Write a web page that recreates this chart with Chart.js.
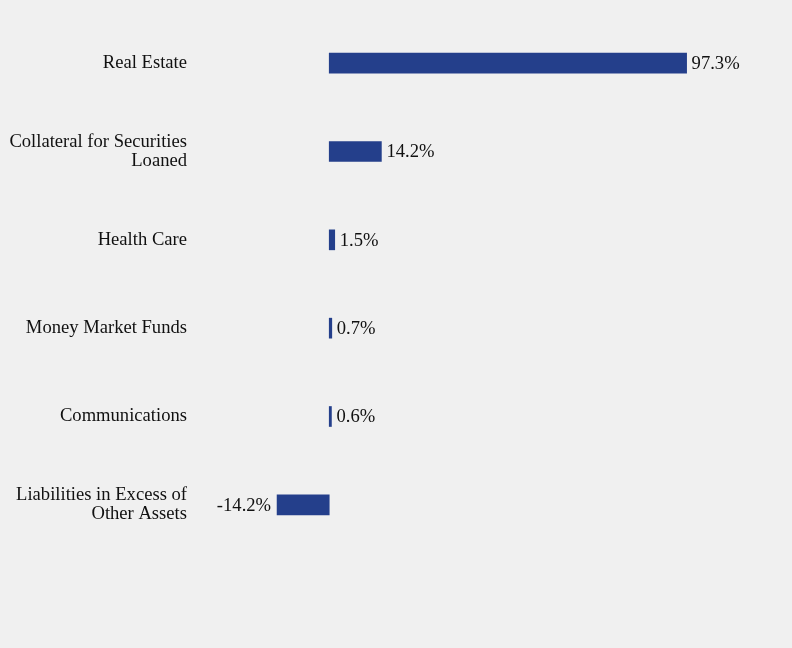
<!DOCTYPE html>
<html>
<head>
<meta charset="utf-8">
<script src="https://cdn.jsdelivr.net/npm/chart.js@4"></script>
<style>
  html, body { margin: 0; padding: 0; background: #f0f0f0; }
  #wrap { width: 792px; height: 648px; }
</style>
</head>
<body>
<div id="wrap"><canvas id="grafico"></canvas></div>
<script>
const categorias = [
    'Real Estate',
    ['Collateral for Securities', 'Loaned'],
    'Health Care',
    'Money Market Funds',
    'Communications',
    ['Liabilities in Excess of', 'Other Assets']
];
const valores = [97.3, 14.2, 1.5, 0.7, 0.6, -14.2];

const fonte = { family: '"Liberation Serif", "Times New Roman", serif', size: 18.6, lineHeight: 1.05 };

// escreve o percentual na ponta de cada barra
const rotulosBarra = {
    id: 'rotulosBarra',
    afterDatasetsDraw(chart) {
        const ctx = chart.ctx;
        const meta = chart.getDatasetMeta(0);
        ctx.save();
        ctx.font = fonte.size + 'px ' + fonte.family;
        ctx.fillStyle = '#111111';
        ctx.textBaseline = 'middle';
        meta.data.forEach((barra, i) => {
            const v = valores[i];
            const texto = v.toFixed(1) + '%';
            if (v >= 0) {
                ctx.textAlign = 'left';
                ctx.fillText(texto, barra.x + 5, barra.y + 1);
            } else {
                ctx.textAlign = 'right';
                ctx.fillText(texto, barra.x - 6, barra.y + 1);
            }
        });
        ctx.restore();
    }
};

new Chart(document.getElementById('grafico'), {
    type: 'bar',
    data: {
        labels: categorias,
        datasets: [{
            data: valores,
            backgroundColor: '#243f8b',
            borderWidth: 0,
            barThickness: 20
        }]
    },
    options: {
        indexAxis: 'y',
        responsive: true,
        maintainAspectRatio: false,
        animation: false,
        layout: { padding: { top: 19, bottom: 99, right: 22, left: 0 } },
        plugins: {
            legend: { display: false },
            tooltip: { enabled: false }
        },
        scales: {
            x: {
                display: false,
                min: -36,
                max: 120
            },
            y: {
                grid: { display: false, drawTicks: false },
                border: { display: false },
                ticks: { color: '#111111', font: fonte, padding: 10 },
                afterFit(scale) {
                    scale.width = 197;
                    scale.paddingTop = 0;
                    scale.paddingBottom = 0;
                }
            }
        }
    },
    plugins: [rotulosBarra]
});
</script>
</body>
</html>
